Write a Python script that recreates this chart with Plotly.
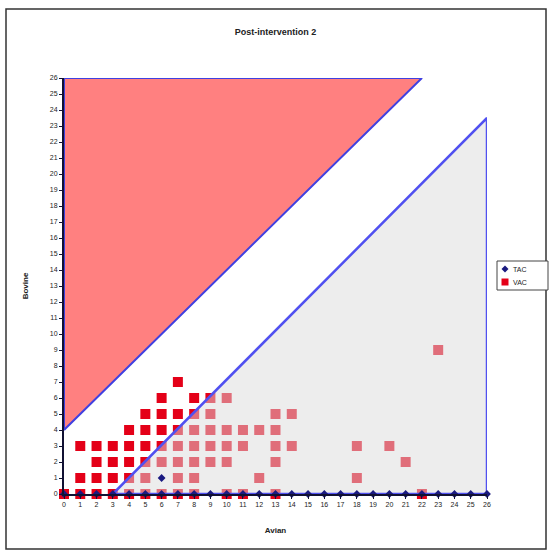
import plotly.graph_objects as go

# Data
tac_x = list(range(0, 27)) + [6]
tac_y = [0] * 27 + [1]

vac_points = [
    # y = 0
    (0, 0), (1, 0), (2, 0), (3, 0), (4, 0), (5, 0), (6, 0), (7, 0), (8, 0),
    (10, 0), (11, 0), (13, 0), (22, 0),
    # y = 1
    (1, 1), (2, 1), (3, 1), (4, 1), (5, 1), (7, 1), (8, 1), (12, 1), (18, 1),
    # y = 2
    (2, 2), (3, 2), (4, 2), (5, 2), (6, 2), (7, 2), (8, 2), (9, 2), (10, 2), (13, 2), (21, 2),
    # y = 3
    (1, 3), (2, 3), (3, 3), (4, 3), (5, 3), (6, 3), (7, 3), (8, 3), (9, 3), (10, 3),
    (11, 3), (13, 3), (14, 3), (18, 3), (20, 3),
    # y = 4
    (4, 4), (5, 4), (6, 4), (7, 4), (8, 4), (9, 4), (10, 4), (11, 4), (12, 4), (13, 4),
    # y = 5
    (5, 5), (6, 5), (7, 5), (8, 5), (9, 5), (13, 5), (14, 5),
    # y = 6
    (6, 6), (8, 6), (9, 6), (10, 6),
    # y = 7
    (7, 7),
    # outlier
    (23, 9),
]
vac_x = [p[0] for p in vac_points]
vac_y = [p[1] for p in vac_points]

# Region boundaries
red_tri_x = [0, 0, 22, 0]
red_tri_y = [4, 26, 26, 4]
grey_tri_x = [3, 26, 26, 3]
grey_tri_y = [0, 0, 23.5, 0]

ticks = list(range(0, 27))
series_names = ["TAC", "VAC"]
tac_color = "#1A1A80"
vac_color = "rgb(228,0,24)"

fig = go.Figure()

fig.add_trace(go.Scatter(
    x=red_tri_x, y=red_tri_y, mode="lines", fill="toself",
    fillcolor="rgb(255,128,128)", line=dict(color="#4040E0", width=2),
    showlegend=False, hoverinfo="skip"))

fig.add_trace(go.Scatter(
    x=vac_x, y=vac_y, mode="markers", name=series_names[1],
    marker=dict(symbol="square", size=10, color=vac_color, line=dict(width=0)),
    showlegend=False, cliponaxis=False))

fig.add_trace(go.Scatter(
    x=grey_tri_x, y=grey_tri_y, mode="lines", fill="toself",
    fillcolor="rgba(220,220,220,0.5)", line=dict(color="#5050F0", width=2.5),
    showlegend=False, hoverinfo="skip"))

fig.add_trace(go.Scatter(
    x=tac_x, y=tac_y, mode="markers", name=series_names[0],
    marker=dict(symbol="diamond", size=6, color=tac_color),
    showlegend=False, cliponaxis=False))

L, R, T, B = 64, 64, 78, 58
W, H = 551, 552
pw, ph = W - L - R, H - T - B

def px(xp):
    return (xp - L) / pw

def py(yp):
    return (H - B - yp) / ph

# manual legend
lg_x0, lg_x1, lg_y0, lg_y1 = 497, 548, 261, 290
row_y = [269, 282]
sym_x = 505
shapes = [
    dict(type="rect", xref="paper", yref="paper",
         x0=px(6), x1=px(546), y0=py(549), y1=py(9),
         line=dict(color="#333333", width=1.5), fillcolor="rgba(0,0,0,0)", layer="below"),
    dict(type="rect", xref="paper", yref="paper",
         x0=px(lg_x0), x1=px(lg_x1), y0=py(lg_y1), y1=py(lg_y0),
         line=dict(color="#444444", width=1), fillcolor="white"),
    dict(type="path", xref="paper", yref="paper",
         path="M {a},{b} L {c},{d} L {a},{e} L {f},{d} Z".format(
             a=px(sym_x), b=py(row_y[0] - 3.5), c=px(sym_x + 3.5), d=py(row_y[0]),
             e=py(row_y[0] + 3.5), f=px(sym_x - 3.5)),
         line=dict(width=0), fillcolor=tac_color),
    dict(type="rect", xref="paper", yref="paper",
         x0=px(sym_x - 3.5), x1=px(sym_x + 3.5), y0=py(row_y[1] + 3.5), y1=py(row_y[1] - 3.5),
         line=dict(width=0), fillcolor=vac_color),
]
annotations = [
    dict(xref="paper", yref="paper", x=px(sym_x + 6), y=py(ry), text=name,
         showarrow=False, xanchor="left", yanchor="middle", font=dict(size=7, color="#222222"))
    for ry, name in zip(row_y, series_names)
]

fig.update_layout(
    width=W, height=H,
    margin=dict(l=L, r=R, t=T, b=B, autoexpand=False),
    paper_bgcolor="white", plot_bgcolor="white",
    font=dict(family="Liberation Sans, Arial, sans-serif", size=7, color="#222222"),
    title=dict(text="<b>Post-intervention 2</b>", x=0.5, xanchor="center",
               y=1 - 32 / H, yanchor="middle", font=dict(size=9, color="#222222")),
    showlegend=False,
    xaxis=dict(range=[0, 26], tickmode="array", tickvals=ticks, ticktext=[str(t) for t in ticks],
               showgrid=False, zeroline=False, showline=True, linecolor="#111133", linewidth=2,
               ticks="outside", ticklen=3, tickcolor="#111133", automargin=False,
               title=dict(text="<b>Avian</b>", standoff=20, font=dict(size=8)),
               tickangle=0),
    yaxis=dict(range=[0, 26], tickmode="array", tickvals=ticks, ticktext=[str(t) for t in ticks],
               showgrid=False, zeroline=False, showline=True, linecolor="#111133", linewidth=2,
               ticks="outside", ticklen=3, tickcolor="#111133", automargin=False,
               title=dict(text="<b>Bovine</b>", standoff=20, font=dict(size=8))),
    shapes=shapes,
    annotations=annotations,
)

fig.write_html("out.html", config={"displayModeBar": False},
               post_script="document.body.style.margin='0px';")
